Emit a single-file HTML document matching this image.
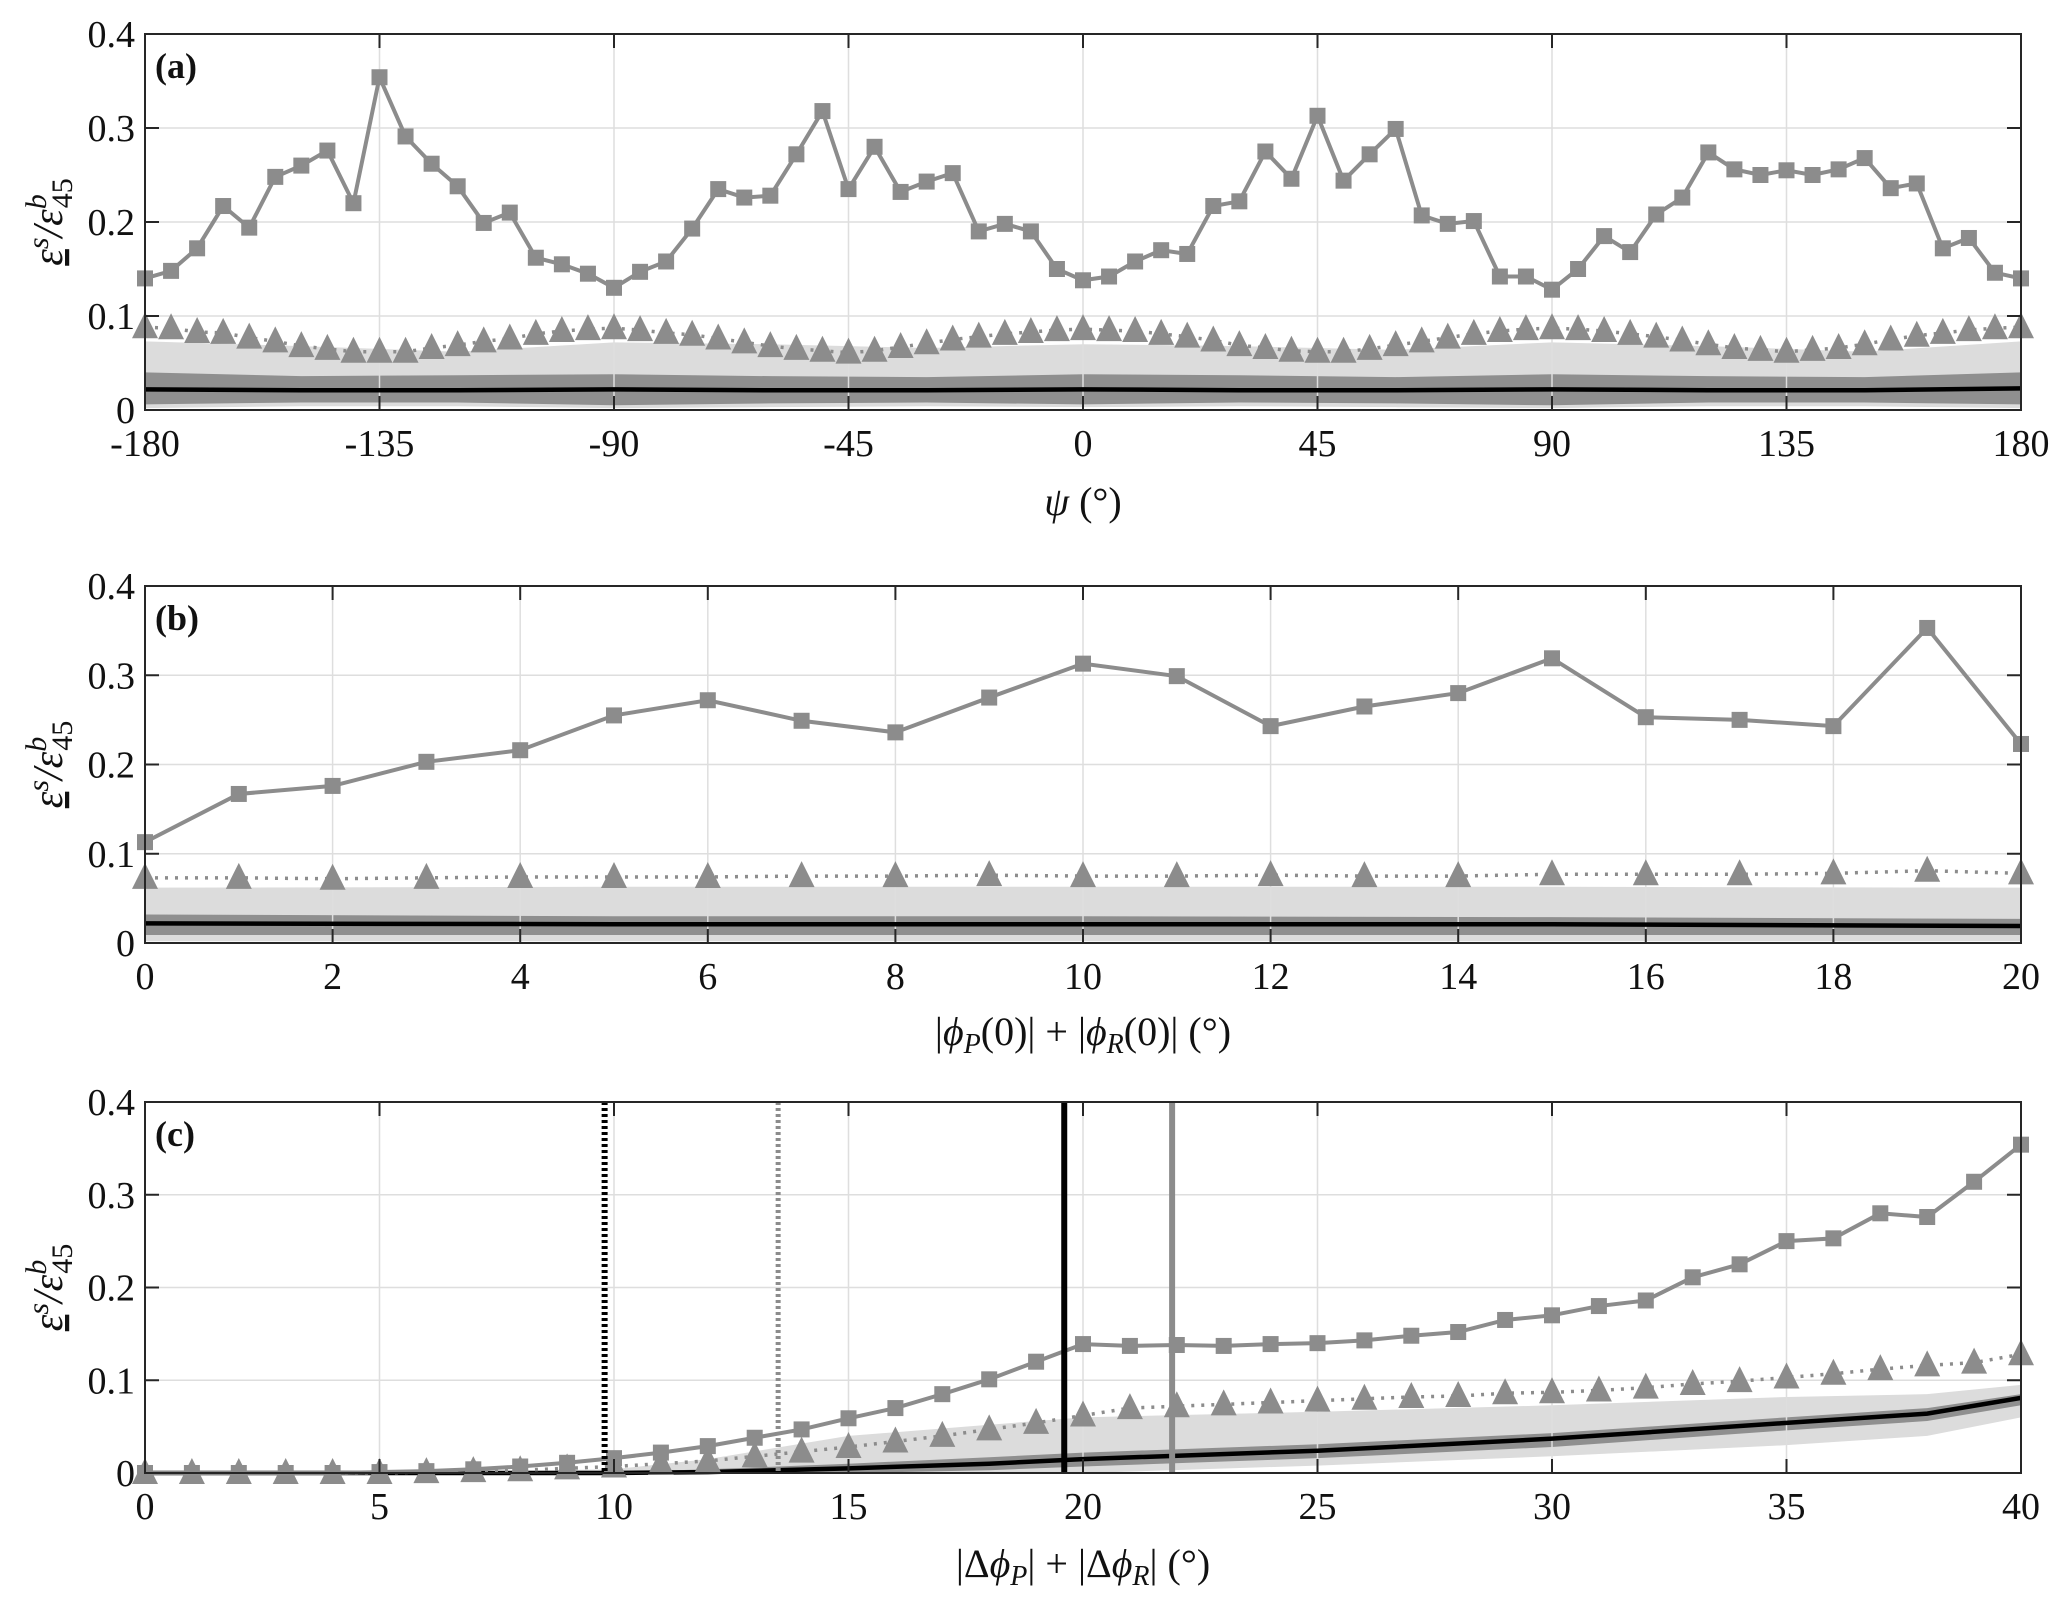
<!DOCTYPE html>
<html><head><meta charset="utf-8"><style>
body{margin:0;background:#fff}
svg{display:block}
text{font-family:"Liberation Serif","DejaVu Serif",serif;fill:#111}
</style></head><body>
<svg id="fig" width="2067" height="1603" viewBox="0 0 2067 1603" xmlns="http://www.w3.org/2000/svg"></svg>
<script>
// ---- Panel (a) data ----
const aX = [];
for (let v=-180; v<=180; v+=5) aX.push(v);
const aSq = [0.14,0.148,0.172,0.217,0.194,0.248,0.26,0.276,0.22,0.354,0.291,0.262,0.238,0.199,0.21,0.162,0.155,0.145,0.13,0.147,0.158,0.193,0.235,0.226,0.228,0.272,0.318,0.235,0.28,0.232,0.243,0.252,0.19,0.198,0.19,0.15,0.138,0.142,0.158,0.17,0.166,0.217,0.222,0.275,0.246,0.313,0.244,0.272,0.299,0.207,0.198,0.201,0.142,0.142,0.128,0.15,0.185,0.168,0.208,0.226,0.274,0.256,0.25,0.255,0.25,0.256,0.268,0.236,0.241,0.172,0.183,0.146,0.14];
const aTri = [0.088,0.087,0.083,0.082,0.077,0.073,0.068,0.065,0.062,0.062,0.062,0.066,0.069,0.073,0.076,0.081,0.084,0.086,0.087,0.085,0.082,0.08,0.076,0.072,0.068,0.065,0.063,0.061,0.063,0.067,0.071,0.075,0.078,0.081,0.083,0.085,0.086,0.085,0.084,0.081,0.078,0.074,0.069,0.066,0.063,0.062,0.062,0.065,0.069,0.073,0.077,0.081,0.084,0.086,0.087,0.086,0.084,0.081,0.078,0.074,0.07,0.066,0.064,0.062,0.064,0.066,0.07,0.075,0.079,0.082,0.085,0.087,0.088];
const aBX = [-180,-150,-120,-90,-60,-30,0,30,60,90,120,150,180];
const aLightHi = [0.073,0.068,0.062,0.072,0.07,0.066,0.07,0.068,0.064,0.072,0.068,0.062,0.073];
const aLightLo = [0.002,0.004,0.004,0.002,0.003,0.004,0.003,0.004,0.003,0.002,0.004,0.004,0.002];
const aDarkHi = [0.04,0.036,0.037,0.038,0.036,0.035,0.038,0.037,0.035,0.038,0.036,0.035,0.04];
const aDarkLo = [0.006,0.008,0.008,0.005,0.007,0.008,0.006,0.008,0.007,0.005,0.008,0.008,0.006];
const aMed = [0.022,0.021,0.021,0.022,0.021,0.021,0.022,0.021,0.021,0.022,0.021,0.021,0.023];
const aTicks = [-180,-135,-90,-45,0,45,90,135,180];

// ---- Panel (b) data ----
const bX = [0,1,2,3,4,5,6,7,8,9,10,11,12,13,14,15,16,17,18,19,20];
const bSq = [0.113,0.167,0.176,0.203,0.216,0.255,0.272,0.249,0.236,0.275,0.313,0.299,0.243,0.265,0.28,0.319,0.253,0.25,0.243,0.353,0.223];
const bTri = [0.073,0.073,0.072,0.073,0.074,0.074,0.074,0.075,0.075,0.076,0.075,0.075,0.076,0.075,0.075,0.077,0.077,0.077,0.078,0.081,0.078];
const bBX = [0,5,10,15,20];
const bLightHi = [0.062,0.063,0.063,0.063,0.062];
const bLightLo = [0.002,0.002,0.002,0.002,0.002];
const bDarkHi = [0.032,0.03,0.03,0.029,0.027];
const bDarkLo = [0.009,0.009,0.009,0.009,0.009];
const bMed = [0.022,0.021,0.021,0.021,0.019];
const bTicks = [0,2,4,6,8,10,12,14,16,18,20];

// ---- Panel (c) data ----
const cX = [];
for (let v=0; v<=40; v++) cX.push(v);
const cSq = [0,0,0,0,0,0.001,0.002,0.004,0.007,0.011,0.016,0.022,0.029,0.038,0.047,0.059,0.07,0.085,0.101,0.12,0.139,0.137,0.138,0.137,0.139,0.14,0.143,0.148,0.152,0.165,0.17,0.18,0.186,0.211,0.225,0.25,0.253,0.28,0.276,0.314,0.354];
const cTri = [0,0,0,0,0,0,0.001,0.002,0.003,0.005,0.007,0.01,0.013,0.018,0.023,0.028,0.034,0.04,0.047,0.054,0.062,0.07,0.072,0.074,0.076,0.078,0.08,0.082,0.083,0.086,0.087,0.089,0.092,0.096,0.099,0.103,0.107,0.112,0.116,0.119,0.128];
const cBX = [0,5,10,12,15,18,20,25,30,35,38,40];
const cLightHi = [0,0,0.004,0.015,0.04,0.052,0.06,0.066,0.073,0.082,0.085,0.095];
const cLightLo = [0,0,0,0,0,0,0,0.008,0.018,0.03,0.04,0.06];
const cDarkHi = [0,0,0.001,0.004,0.01,0.017,0.022,0.031,0.043,0.06,0.07,0.085];
const cDarkLo = [0,0,0,0,0,0.003,0.007,0.016,0.028,0.046,0.056,0.073];
const cMed = [0,0,0,0.001,0.005,0.01,0.015,0.024,0.037,0.054,0.064,0.081];
const cTicks = [0,5,10,15,20,25,30,35,40];
const cVLines = [9.8,13.5,19.6,21.9];

const yTicks = [0,0.1,0.2,0.3,0.4];
const yTickLabels = ["0","0.1","0.2","0.3","0.4"];

const NS="http://www.w3.org/2000/svg";
const svg=document.getElementById('fig');
function mk(tag,attrs,parent){const e=document.createElementNS(NS,tag);for(const k in attrs)e.setAttribute(k,attrs[k]);(parent||svg).appendChild(e);return e;}

function panel(id,cfg){
  const L=145,R=2021,T=cfg.top,B=cfg.bottom;
  const sx=v=>L+(v-cfg.xmin)/(cfg.xmax-cfg.xmin)*(R-L);
  const sy=v=>B-(v/0.4)*(B-T);
  const g=mk('g',{});
  
  
  function band(hi,lo,fill,name){
    let d='';
    cfg.bx.forEach((x,i)=>{d+=(i?'L':'M')+sx(x)+','+sy(hi[i]);});
    for(let i=cfg.bx.length-1;i>=0;i--)d+='L'+sx(cfg.bx[i])+','+sy(lo[i]);
    const p=mk('path',{d:d+'Z',fill:fill},g);
    
    
  }
  band(cfg.lhi,cfg.llo,'#dcdcdc','light-band');
  band(cfg.dhi,cfg.dlo,'#8f8f8f','dark-band');
  cfg.ticks.forEach(t=>{const l=mk('line',{x1:sx(t),x2:sx(t),y1:T,y2:B,stroke:'#dedede','stroke-width':1.5},g);
    });
  yTicks.forEach(t=>{const l=mk('line',{x1:L,x2:R,y1:sy(t),y2:sy(t),stroke:'#dedede','stroke-width':1.5},g);
    });
  let md='';cfg.bx.forEach((x,i)=>{md+=(i?'L':'M')+sx(x)+','+sy(cfg.med[i]);});
  const ml=mk('path',{d:md,fill:'none',stroke:'#000','stroke-width':4.5},g);
  
  let td='';cfg.x.forEach((x,i)=>{td+=(i?'L':'M')+sx(x)+','+sy(cfg.tri[i]);});
  const tl=mk('path',{d:td,fill:'none',stroke:'#8c8c8c','stroke-width':3.5,'stroke-dasharray':'3 7'},g);
  
  cfg.x.forEach((x,i)=>{const cx=sx(x),cy=sy(cfg.tri[i]);
    const p=mk('polygon',{points:`${cx-13},${cy+11} ${cx+13},${cy+11} ${cx},${cy-15}`,fill:'#8c8c8c'},g);
    });
  let sd='';cfg.x.forEach((x,i)=>{sd+=(i?'L':'M')+sx(x)+','+sy(cfg.sq[i]);});
  const sl=mk('path',{d:sd,fill:'none',stroke:'#8c8c8c','stroke-width':4},g);
  
  cfg.x.forEach((x,i)=>{const r=mk('rect',{x:sx(x)-8,y:sy(cfg.sq[i])-8,width:16,height:16,fill:'#8c8c8c'},g);
    });
  if(cfg.vl){
    const st=[['#000','3 3',6],['#8c8c8c','3 3',5],['#000','',6],['#8c8c8c','',6]];
    cfg.vl.forEach((v,i)=>{const a={x1:sx(v),x2:sx(v),y1:T,y2:B,stroke:st[i][0],'stroke-width':st[i][2]};
      if(st[i][1])a['stroke-dasharray']=st[i][1];
      const l=mk('line',a,g);});
  }
  const bx=mk('rect',{x:L,y:T,width:R-L,height:B-T,fill:'none',stroke:'#262626','stroke-width':2},g);
  
  cfg.ticks.forEach(t=>{
    mk('line',{x1:sx(t),x2:sx(t),y1:B,y2:B-14,stroke:'#262626','stroke-width':2},g);
    mk('line',{x1:sx(t),x2:sx(t),y1:T,y2:T+14,stroke:'#262626','stroke-width':2},g);
    const tx=mk('text',{x:sx(t),y:B+46,'text-anchor':'middle','font-size':38},g);tx.textContent=String(t);
    
  });
  yTicks.forEach((t,i)=>{
    mk('line',{x1:L,x2:L+14,y1:sy(t),y2:sy(t),stroke:'#262626','stroke-width':2},g);
    mk('line',{x1:R,x2:R-14,y1:sy(t),y2:sy(t),stroke:'#262626','stroke-width':2},g);
    const tx=mk('text',{x:L-10,y:sy(t)+13,'text-anchor':'end','font-size':38},g);tx.textContent=yTickLabels[i];
    
  });
  const pl=mk('text',{x:L+10,y:T+44,'font-size':36,'font-weight':'bold'},g);pl.textContent='('+id+')';
  
  const yl=mk('text',{transform:`translate(62,${(T+B)/2}) rotate(-90)`,'text-anchor':'middle','font-size':42,'font-style':'italic'},g);
  
  yl.innerHTML='<tspan text-decoration="underline">ε</tspan><tspan dy="-14" font-size="30">s</tspan><tspan dy="14">/ε</tspan><tspan dy="-16" font-size="30">b</tspan><tspan dx="-14" dy="26" font-size="30" font-style="normal">45</tspan>';
  const xl=mk('text',{x:(L+R)/2,y:cfg.xlabY,'text-anchor':'middle','font-size':40},g);
  
  xl.innerHTML=cfg.xlab;
}
panel('a',{top:34,bottom:410,xmin:-180,xmax:180,x:aX,sq:aSq,tri:aTri,bx:aBX,lhi:aLightHi,llo:aLightLo,dhi:aDarkHi,dlo:aDarkLo,med:aMed,ticks:aTicks,xlabY:515,
  xlab:'<tspan font-style="italic">ψ</tspan> (°)'});
panel('b',{top:586,bottom:943,xmin:0,xmax:20,x:bX,sq:bSq,tri:bTri,bx:bBX,lhi:bLightHi,llo:bLightLo,dhi:bDarkHi,dlo:bDarkLo,med:bMed,ticks:bTicks,xlabY:1045,
  xlab:'|<tspan font-style="italic">ϕ</tspan><tspan font-size="28" dy="8" font-style="italic">P</tspan><tspan dy="-8">(0)| + |</tspan><tspan font-style="italic">ϕ</tspan><tspan font-size="28" dy="8" font-style="italic">R</tspan><tspan dy="-8">(0)| (°)</tspan>'});
panel('c',{top:1102,bottom:1473,xmin:0,xmax:40,x:cX,sq:cSq,tri:cTri,bx:cBX,lhi:cLightHi,llo:cLightLo,dhi:cDarkHi,dlo:cDarkLo,med:cMed,ticks:cTicks,vl:cVLines,xlabY:1577,
  xlab:'|Δ<tspan font-style="italic">ϕ</tspan><tspan font-size="28" dy="8" font-style="italic">P</tspan><tspan dy="-8">| + |Δ</tspan><tspan font-style="italic">ϕ</tspan><tspan font-size="28" dy="8" font-style="italic">R</tspan><tspan dy="-8">| (°)</tspan>'});
</script>
</body></html>
